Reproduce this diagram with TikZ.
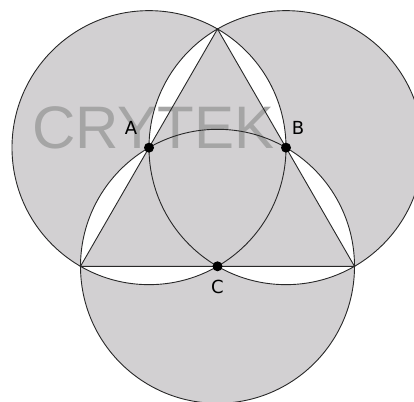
\documentclass[tikz,border=0pt]{standalone}
\usepackage{fontspec}
\setmainfont{DejaVu Sans}
\newfontfamily\wmfont{Liberation Sans}
\definecolor{areagray}{RGB}{210,208,210}
\definecolor{wmgray}{RGB}{165,165,165}
\definecolor{ink}{RGB}{40,40,40}
\begin{document}
\begin{tikzpicture}[x=1pt,y=-1pt,
  outline/.style={draw=ink,line width=0.9pt},
  dotmark/.style={circle,fill=black,inner sep=0pt,minimum size=10pt},
  lab/.style={font=\fontsize{18}{20}\selectfont,text=black,inner sep=0pt},
  wmtext/.style={font=\wmfont\fontsize{60}{60}\selectfont,text=wmgray,inner sep=0pt}]
\useasboundingbox (0,0) rectangle (414,401);
\clip (0,0) rectangle (414,401);
\coordinate (T) at (217.5,29);
\coordinate (L) at (80.5,266.3);
\coordinate (R) at (354.5,266.3);
\coordinate (A) at (149,147.65);
\coordinate (B) at (286,147.65);
\coordinate (C) at (217.5,266.3);
% shading
\fill[areagray,even odd rule] (A) circle[radius=137pt] (B) circle[radius=137pt] (C) circle[radius=137pt];
\fill[areagray] (T) -- (L) -- (R) -- cycle;
% watermark
\node[wmtext,anchor=base west] (wm) at (32,148) {CRYTEK};
% outlines
\draw[outline] (A) circle[radius=137pt];
\draw[outline] (B) circle[radius=137pt];
\draw[outline] (C) circle[radius=137pt];
\draw[outline] (T) -- (L) -- (R) -- cycle;
% points
\node[dotmark] (dA) at (A) {};
\node[dotmark] (dB) at (B) {};
\node[dotmark] (dC) at (C) {};
\node[lab] (lA) at (131,128) {A};
\node[lab] (lB) at (298,128) {B};
\node[lab] (lC) at (217.5,287) {C};
\end{tikzpicture}
\end{document}
